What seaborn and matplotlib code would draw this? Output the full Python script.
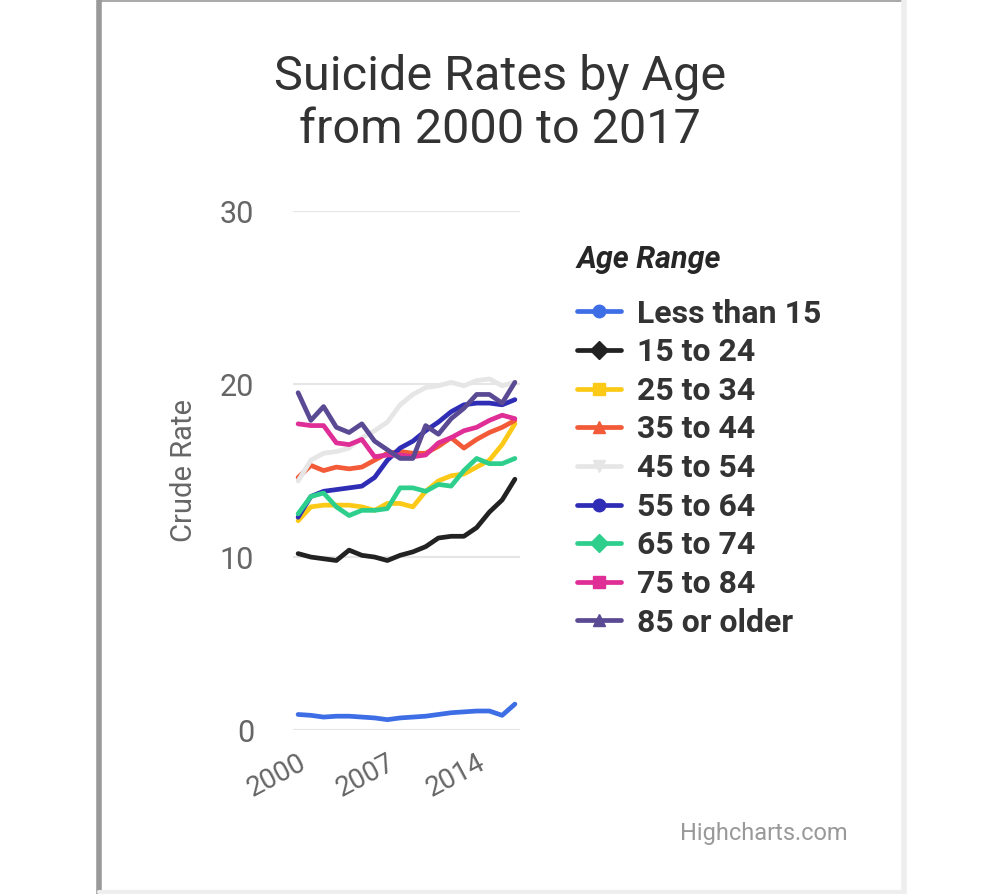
import pandas as pd
import numpy as np
import matplotlib
matplotlib.use("Agg")
import matplotlib.pyplot as plt
import seaborn as sns
from matplotlib.lines import Line2D

sns.set_theme(style="white")
plt.rcParams['font.family'] = ['Roboto', 'DejaVu Sans']

years = list(range(2000, 2018))
age_order = ["Less than 15", "15 to 24", "25 to 34", "35 to 44", "45 to 54",
             "55 to 64", "65 to 74", "75 to 84", "85 or older"]

less_15 = [0.9, 0.85, 0.75, 0.8, 0.8, 0.75, 0.7, 0.6, 0.7, 0.75, 0.8, 0.9, 1.0, 1.05, 1.1, 1.1, 0.85, 1.5]
age_15_24 = [10.2, 10.0, 9.9, 9.8, 10.4, 10.1, 10.0, 9.8, 10.1, 10.3, 10.6, 11.1, 11.2, 11.2, 11.7, 12.6, 13.3, 14.5]
age_25_34 = [12.1, 12.9, 13.0, 13.0, 13.0, 12.9, 12.7, 13.1, 13.1, 12.9, 13.8, 14.4, 14.7, 14.8, 15.2, 15.6, 16.5, 17.7]
age_35_44 = [14.6, 15.3, 15.0, 15.2, 15.1, 15.2, 15.6, 16.0, 16.1, 16.0, 16.0, 16.4, 16.9, 16.3, 16.8, 17.2, 17.5, 17.9]
age_45_54 = [14.4, 15.6, 16.0, 16.1, 16.3, 16.9, 17.3, 17.8, 18.8, 19.4, 19.8, 19.9, 20.1, 19.9, 20.2, 20.3, 19.9, 20.1]
age_55_64 = [12.3, 13.5, 13.8, 13.9, 14.0, 14.1, 14.6, 15.6, 16.3, 16.7, 17.3, 17.8, 18.4, 18.8, 18.9, 18.9, 18.8, 19.1]
age_65_74 = [12.5, 13.5, 13.7, 12.9, 12.4, 12.7, 12.7, 12.8, 14.0, 14.0, 13.8, 14.2, 14.1, 15.0, 15.7, 15.4, 15.4, 15.7]
age_75_84 = [17.7, 17.6, 17.6, 16.6, 16.5, 16.8, 15.8, 15.9, 15.9, 15.8, 15.9, 16.6, 16.9, 17.3, 17.5, 17.9, 18.2, 18.0]
age_85_up = [19.5, 17.9, 18.7, 17.5, 17.2, 17.7, 16.7, 16.2, 15.7, 15.7, 17.6, 17.1, 18.0, 18.6, 19.4, 19.4, 18.9, 20.1]

series = [less_15, age_15_24, age_25_34, age_35_44, age_45_54,
          age_55_64, age_65_74, age_75_84, age_85_up]
colors = ["#3d6ee6", "#222222", "#fcc917", "#f25a38", "#e6e6e6",
          "#2f2db6", "#2ecf8c", "#df2e96", "#5a4a93"]
markers = ["o", "D", "s", "^", "v", "o", "D", "s", "^"]

df = pd.DataFrame({
    "Year": years * len(age_order),
    "Rate": sum(series, []),
    "Age Range": np.repeat(age_order, len(years)),
})

fig = plt.figure(figsize=(10, 8.94), dpi=100)
ax = fig.add_axes([0.293, 0.1834, 0.227, 0.5805])

sns.lineplot(data=df, x="Year", y="Rate", hue="Age Range", hue_order=age_order,
             palette=colors, linewidth=3.4, ax=ax, legend=False)

ax.set_xlim(1999.6, 2017.4)
ax.set_ylim(0, 30)
ax.set_yticks([0, 10, 20, 30])
ax.set_xticks([2000, 2007, 2014])
ax.set_xticklabels(["2000", "2007", "2014"], rotation=28, ha="right",
                   rotation_mode="anchor", fontsize=20, color="#666666")
ax.tick_params(axis="y", labelsize=22, colors="#666666", length=0, pad=28)
ax.tick_params(axis="x", length=0, pad=14)
for s in ax.spines.values():
    s.set_visible(False)
ax.yaxis.grid(True, color="#e6e6e6", linewidth=1.5)
ax.set_axisbelow(True)
ax.axhline(0, color="#ccd6eb", linewidth=1.5, zorder=0.5)
ax.set_xlabel("")
ax.set_ylabel("Crude Rate", fontsize=21, color="#666666", labelpad=16)

fig.suptitle("Suicide Rates by Age\nfrom 2000 to 2017", y=0.94, fontsize=35,
             color="#333333", linespacing=1.2)

handles = [Line2D([0], [0], color=c, marker=m, markersize=9, linewidth=3.4)
           for c, m in zip(colors, markers)]
leg = fig.legend(handles, age_order, loc="upper left", bbox_to_anchor=(0.551, 0.755),
                 frameon=False, title="Age Range", handlelength=1.4, handletextpad=0.5,
                 labelspacing=0.27, borderpad=0.3,
                 prop={"size": 23, "weight": "bold"},
                 title_fontproperties={"size": 22, "weight": "bold", "style": "italic"})
leg._legend_box.align = "left"
leg._legend_box.sep = 18
for t in leg.get_texts():
    t.set_color("#333333")

fig.text(0.848, 0.06, "Highcharts.com", ha="right", fontsize=17, color="#999999")

# frame around the screenshot
fig.add_artist(Line2D([0.0985, 0.0985], [0, 1], color="#999999", linewidth=4))
fig.add_artist(Line2D([0.0985, 0.903], [0.999, 0.999], color="#999999", linewidth=1.2))
fig.add_artist(Line2D([0.9035, 0.9035], [0, 1], color="#eeeeee", linewidth=4))
fig.add_artist(Line2D([0.0985, 0.903], [0.002, 0.002], color="#eeeeee", linewidth=3))

fig.savefig("out.png", dpi=100)
